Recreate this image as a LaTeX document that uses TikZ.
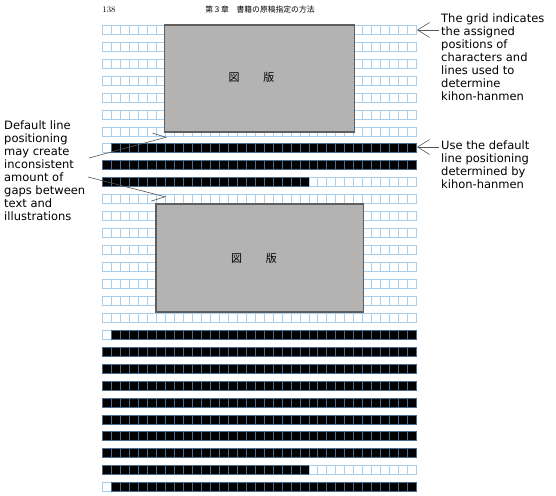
\documentclass[tikz,border=0pt]{standalone}
\usepackage{fontspec}
\newfontfamily\notefont{DejaVu Sans}
\newfontfamily\jpfont{Noto Sans CJK JP}
\usetikzlibrary{arrows.meta}
\definecolor{rasterblau}{HTML}{A9CFEE}
\definecolor{tintenblau}{HTML}{4A6C8E}
\definecolor{bildgrau}{HTML}{B3B3B3}
\definecolor{randgrau}{HTML}{5E5E5E}
\definecolor{pfeilgrau}{HTML}{555555}
\tikzset{
  feld/.style={draw=rasterblau, line width=0.8pt},
  tinte/.style={fill=black, draw=tintenblau, line width=0.8pt},
  bild/.style={fill=bildgrau, draw=randgrau, line width=1.3pt},
  bildtext/.style={font=\jpfont\fontsize{11}{12}\selectfont},
  notiz/.style={font=\notefont\fontsize{11.5}{13}\selectfont, align=left, inner sep=2pt, anchor=north west},
  pfeil/.style={draw=pfeilgrau, line width=0.6pt, -{Straight Barb[length=12pt,width=15pt]}},
}
\begin{document}
\begin{tikzpicture}[x=1pt,y=-1pt]
  \useasboundingbox (0,0) rectangle (556,495);
  %Kopfzeile
  \node[font=\fontsize{8.5}{9}\selectfont] (seite) at (109,10) {138};
  \node[font=\jpfont\fontsize{7.8}{9}\selectfont] (titel) at (260,10) {第３章　書籍の原稿指定の方法};
  %Raster: Zeile/erstes schwarzes Feld/letztes
  \foreach \r/\von/\bis in {0/0/0,1/0/0,2/0/0,3/0/0,4/0/0,5/0/0,6/0/0,
      7/1/35,8/0/35,9/0/23,
      10/0/0,11/0/0,12/0/0,13/0/0,14/0/0,15/0/0,16/0/0,17/0/0,
      18/1/35,19/0/35,20/0/35,21/0/35,22/0/35,23/0/35,24/0/35,25/0/35,26/0/23,27/1/35} {
    \foreach \c in {0,...,34} {
      \ifnum\c<\von \def\art{feld}\else\ifnum\c<\bis \def\art{tinte}\else\def\art{feld}\fi\fi
      \draw[\art] (102.3+8.983*\c, 25.3+16.94*\r) rectangle ++(8.983,9);
    }
  }
  %Abbildungen
  \draw[bild] (164.3,25) rectangle (354.7,132);
  \node[bildtext] (bild1) at (251.5,77) {図\hspace{24pt}版};
  \draw[bild] (156,204) rectangle (363.7,312);
  \node[bildtext] (bild2) at (254,258) {図\hspace{24pt}版};
  %Rechts
  \node[notiz] (rastertext) at (439,12) {The grid indicates\\the assigned\\positions of\\characters and\\lines used to\\determine\\kihon-hanmen};
  \node[notiz] (zeilentext) at (439,139) {Use the default\\line positioning\\determined by\\kihon-hanmen};
  \coordinate (rasterspitze) at (417,30);
  \coordinate (zeilenspitze) at (417,147);
  \draw[pfeil] (rastertext.west |- rasterspitze) -- (rasterspitze);
  \draw[pfeil] (zeilentext.west |- zeilenspitze) -- (zeilenspitze);
  %Links
  \node[notiz] (lueckentext) at (2,119) {Default line\\positioning\\may create\\inconsistent\\amount of\\gaps between\\text and\\illustrations};
  \coordinate (fuss1) at (89,158);
  \coordinate (spitze1) at (167,137);
  \coordinate (fuss2) at (88,177);
  \coordinate (spitze2) at (166,197);
  \draw[pfeilgrau, line width=0.6pt, -{Straight Barb[left,length=12pt,width=15pt]}] (fuss1) -- (spitze1);
  \draw[pfeilgrau, line width=0.6pt, -{Straight Barb[right,length=12pt,width=15pt]}] (fuss2) -- (spitze2);
\end{tikzpicture}
\end{document}
